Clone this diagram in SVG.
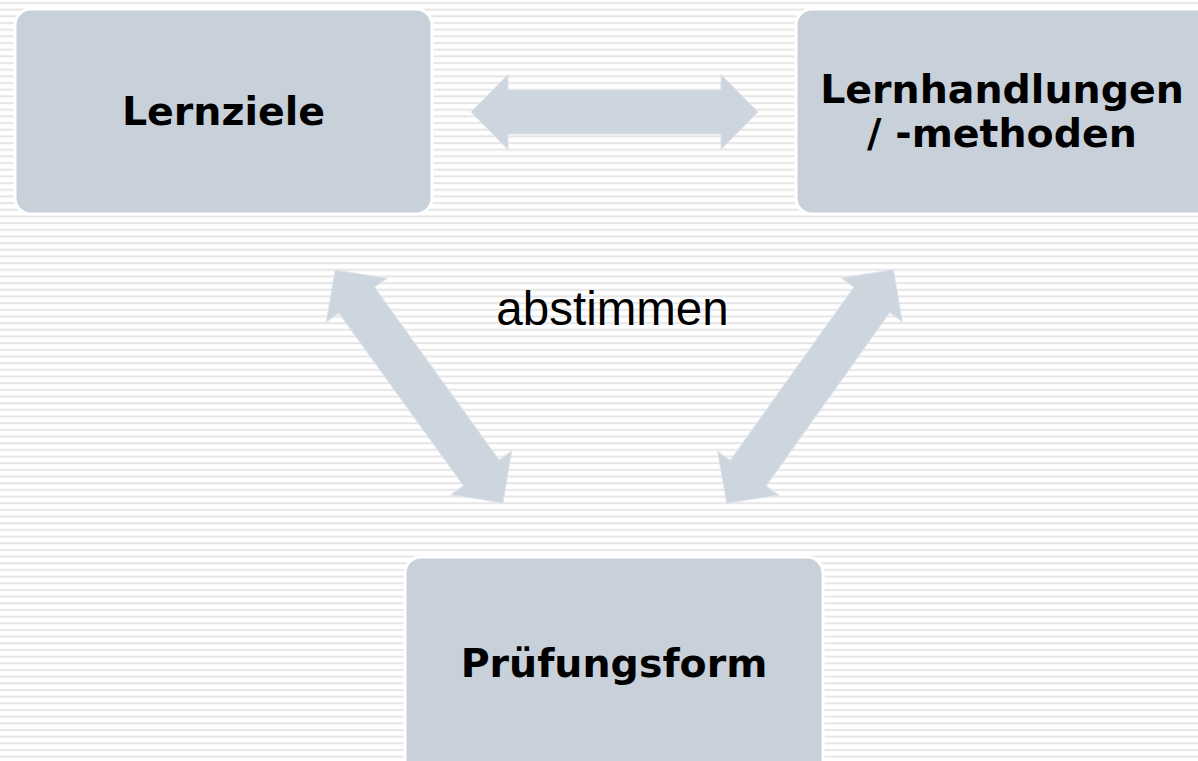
<svg xmlns="http://www.w3.org/2000/svg" width="1198" height="761" viewBox="0 0 1198 761">
<style>
.box{fill:#c8d0da;stroke:#ffffff;stroke-width:3}
.lbl{font-family:"DejaVu Sans",Verdana,sans-serif;font-weight:bold;font-size:39.5px;fill:#000;text-anchor:middle}
.arr{fill:#cdd5de;stroke:#dde3ea;stroke-width:1}
.txt{font-family:"Liberation Sans",Arial,sans-serif;font-size:47.5px;fill:#000;text-anchor:middle}
</style>
<defs>
<pattern id="stripes" width="20" height="6.67" patternUnits="userSpaceOnUse">
<rect x="0" y="0" width="20" height="6.67" fill="#ffffff"/>
<rect x="0" y="2" width="20" height="2" fill="#e6e6e6"/>
</pattern>
<path id="dblarrow" d="M-143.5,0 L-106.5,-37.5 L-106.5,-22 L106.5,-22 L106.5,-37.5 L143.5,0 L106.5,37.5 L106.5,22 L-106.5,22 L-106.5,37.5 Z"/>
</defs>
<rect x="0" y="0" width="1198" height="761" fill="url(#stripes)"/>
<g id="connectors">
<use href="#dblarrow" class="arr" transform="translate(614.5,112)"/>
<use href="#dblarrow" class="arr" transform="translate(419,386.5) rotate(54.2)"/>
<use href="#dblarrow" class="arr" transform="translate(810,386.5) rotate(-54.5)"/>
</g>
<g id="lernziele">
<rect class="box" x="15" y="9" width="417" height="205" rx="16"/>
<text class="lbl" x="223.5" y="125">Lernziele</text>
</g>
<g id="lernhandlungen">
<rect class="box" x="796" y="9" width="420" height="205" rx="16"/>
<text class="lbl" x="1002" y="103">Lernhandlungen</text>
<text class="lbl" x="1002" y="147">/ -methoden</text>
</g>
<g id="pruefungsform">
<rect class="box" x="405" y="557" width="418" height="220" rx="16"/>
<text class="lbl" x="614" y="677">Prüfungsform</text>
</g>
<text class="txt" x="612.5" y="325">abstimmen</text>
</svg>
